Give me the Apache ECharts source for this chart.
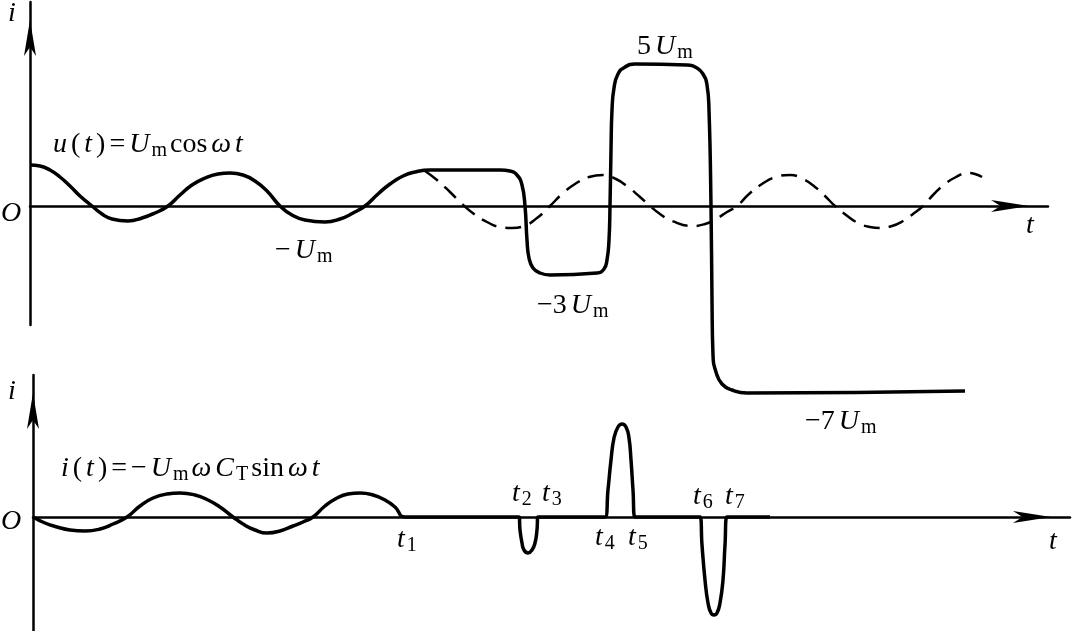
<!DOCTYPE html>
<html>
<head>
<meta charset="utf-8">
<script src="https://cdn.jsdelivr.net/npm/echarts@6/dist/echarts.min.js"></script>
<style>
  html, body { margin: 0; padding: 0; background: #fff; }
  #chart { width: 1073px; height: 631px; }
</style>
</head>
<body>
<div id="chart"></div>
<script>
// ---- Data (t in arbitrary time units, values in visual units of U_m) ----
// Upper panel: solid u(t) (cosine, then the stepped wave)
const uT = [0, 1, 2, 3, 4, 5, 6.2, 7.2, 8.2, 9.8, 11.2, 12.5, 13.8, 15, 16.2, 17.5, 18.8, 20, 21.3, 22.5, 23.7, 25, 26.2, 27.5, 29.5, 31, 32.3, 33.5, 34.8, 36, 37.3, 38.5, 40, 47, 48, 48.7, 49.2, 49.5, 49.7, 49.9, 50.3, 51, 52, 56.7, 57.4, 57.7, 57.9, 58, 58.1, 58.2, 58.4, 58.8, 59.5, 60.5, 65.7, 66.7, 67.3, 67.7, 67.9, 68.1, 68.2, 68.3, 68.6, 69.2, 70.2, 71.7, 93.5];
const uV = [1.025, 1.0, 0.9, 0.725, 0.5, 0.25, 0, -0.2, -0.325, -0.375, -0.3, -0.175, 0, 0.275, 0.525, 0.7, 0.8, 0.825, 0.775, 0.625, 0.375, 0, -0.225, -0.35, -0.4, -0.325, -0.175, 0, 0.3, 0.55, 0.75, 0.85, 0.9, 0.9, 0.875, 0.775, 0.525, 0, -0.85, -1.3, -1.55, -1.675, -1.725, -1.675, -1.575, -1.35, -0.85, 0, 1.4, 2.4, 2.95, 3.3, 3.475, 3.55, 3.525, 3.45, 3.3, 3.025, 2.4, 0, -2.35, -3.725, -4.15, -4.45, -4.6, -4.675, -4.625];
// Upper panel: dashed continuation of the cosine
const dashT = [39.5, 40.7, 42, 43.2, 44.4, 45.7, 47, 48.2, 49.4, 50.7, 52, 53.2, 54.5, 55.9, 57.3, 58.6, 59.8, 61, 62, 63, 64.2, 66.3, 67.5, 68.6, 69.7, 70.7, 71.9, 73.2, 74.6, 76, 77.3, 78.5, 79.5, 80.5, 81.6, 82.8, 84, 85, 86.2, 87.3, 88.3, 89.3, 90.4, 91.5, 92.6, 93.7, 94.5, 95.2];
const dashV = [0.875, 0.65, 0.35, 0.05, -0.2, -0.4, -0.525, -0.55, -0.5, -0.3, 0, 0.3, 0.55, 0.725, 0.775, 0.675, 0.475, 0.225, 0, -0.2, -0.375, -0.5, -0.45, -0.325, -0.15, 0, 0.3, 0.55, 0.725, 0.775, 0.675, 0.475, 0.25, 0, -0.225, -0.425, -0.525, -0.55, -0.5, -0.375, -0.2, 0, 0.3, 0.55, 0.725, 0.825, 0.8, 0.725];
// Lower panel: i(t) sine then current pulses
const iT = [0, 1.2, 2.4, 3.7, 5.2, 6.7, 8, 9.4, 10.7, 12, 13.4, 14.7, 16.2, 17.5, 18.7, 20, 21, 22.2, 23.4, 24.7, 26, 27, 28, 29.2, 30.4, 31.5, 32.7, 34, 35.2, 36.2, 37.2, 48.6, 48.7, 48.9, 49.1, 49.5, 49.9, 50.2, 50.4, 50.5, 57.2, 57.5, 57.8, 58.1, 58.5, 58.9, 59.3, 59.6, 59.8, 60, 60.2, 66.7, 66.9, 67.2, 67.5, 67.8, 68.1, 68.4, 68.7, 69, 69.2, 69.4, 73.7];
const iV = [0, -0.15, -0.25, -0.325, -0.35, -0.3, -0.175, 0, 0.275, 0.475, 0.575, 0.6, 0.55, 0.425, 0.25, 0, -0.175, -0.325, -0.4, -0.35, -0.225, -0.125, 0, 0.275, 0.475, 0.575, 0.6, 0.55, 0.425, 0.25, 0, 0, -0.325, -0.65, -0.825, -0.9, -0.825, -0.65, -0.325, 0, 0, 0.675, 1.425, 1.975, 2.25, 2.325, 2.25, 1.975, 1.425, 0.675, 0, 0, -0.7, -1.575, -2.15, -2.4, -2.45, -2.4, -2.15, -1.575, -0.7, 0, 0];

const zip = (a, b) => a.map((x, k) => [x, b[k]]);

const SERIF = "'Liberation Serif', 'DejaVu Serif', 'Times New Roman', serif";
const rich = {
  i: { fontFamily: SERIF, fontStyle: 'italic', fontSize: 28, lineHeight: 31, padding: [0, 2, 0, 2], fill: '#000' },
  r: { fontFamily: SERIF, fontSize: 28, lineHeight: 31, padding: [0, 2, 0, 2], fill: '#000' },
  s: { fontFamily: SERIF, fontSize: 20, lineHeight: 19, verticalAlign: 'bottom', padding: [0, 1, 0, 0], fill: '#000' }
};
function txt(x, y, text, align) {
  return {
    type: 'text', x: x, y: y, silent: true,
    style: { text: text, rich: rich, align: align || 'left', verticalAlign: 'middle', fill: '#000' }
  };
}

const axisLineStyle = { color: '#000', width: 2.5 };
function xAxis(grid, max) {
  return {
    type: 'value', gridIndex: grid, min: 0, max: max,
    axisLine: { show: true, onZero: true, lineStyle: axisLineStyle, symbol: ['none', 'arrow'], symbolSize: [9, 38], symbolOffset: [0, -19] },
    axisTick: { show: false }, axisLabel: { show: false }, splitLine: { show: false }
  };
}
function yAxis(grid, min, max) {
  return {
    type: 'value', gridIndex: grid, min: min, max: max,
    axisLine: { show: true, onZero: true, lineStyle: axisLineStyle, symbol: ['none', 'arrow'], symbolSize: [9, 36], symbolOffset: [0, -18] },
    axisTick: { show: false }, axisLabel: { show: false }, splitLine: { show: false }
  };
}

const chart = echarts.init(document.getElementById('chart'), null, { renderer: 'canvas' });
chart.setOption({
  animation: false,
  backgroundColor: '#fff',
  grid: [
    { left: 30, right: 25, top: 2, height: 323 },
    { left: 33, right: 3, top: 375, bottom: 0 }
  ],
  xAxis: [xAxis(0, 101.8), xAxis(1, 103.7)],
  yAxis: [yAxis(0, -2.975, 5.1), yAxis(1, -2.85, 3.55)],
  series: [
    { type: 'line', xAxisIndex: 0, yAxisIndex: 0, data: zip(uT, uV), smooth: 0.5, symbol: 'none', clip: false,
      lineStyle: { color: '#000', width: 3.5 }, z: 5 },
    { type: 'line', xAxisIndex: 0, yAxisIndex: 0, data: zip(dashT, dashV), smooth: 0.5, symbol: 'none', clip: false,
      lineStyle: { color: '#000', width: 2.5, type: [16, 9] }, z: 4 },
    { type: 'line', xAxisIndex: 1, yAxisIndex: 1, data: zip(iT, iV), smooth: 0.5, symbol: 'none', clip: false,
      lineStyle: { color: '#000', width: 3.5 }, z: 5 }
  ],
  graphic: [
    txt(12, 14, '{i|i}', 'center'),
    txt(11, 214, '{i|O}', 'center'),
    txt(1030, 226, '{i|t}', 'center'),
    txt(51, 145, '{i|u}{r|(}{i|t}{r|)}{r|=}{i|U}{s|m}{r|cos}{i|ω}{i|t}'),
    txt(273, 251, '{r|−}{i|U}{s|m}'),
    txt(535, 306, '{r|−3}{i|U}{s|m}'),
    txt(635, 47, '{r|5}{i|U}{s|m}'),
    txt(803, 422, '{r|−7}{i|U}{s|m}'),
    txt(12, 392, '{i|i}', 'center'),
    txt(11, 522, '{i|O}', 'center'),
    txt(1053, 542, '{i|t}', 'center'),
    txt(59, 469, '{i|i}{r|(}{i|t}{r|)}{r|=}{r|−}{i|U}{s|m}{i|ω}{i|C}{s|T}{r|sin}{i|ω}{i|t}'),
    txt(395, 540, '{i|t}{s|1}'),
    txt(510, 494, '{i|t}{s|2}'),
    txt(540, 494, '{i|t}{s|3}'),
    txt(593, 538, '{i|t}{s|4}'),
    txt(626, 538, '{i|t}{s|5}'),
    txt(691, 497, '{i|t}{s|6}'),
    txt(723, 497, '{i|t}{s|7}')
  ]
});
</script>
</body>
</html>
